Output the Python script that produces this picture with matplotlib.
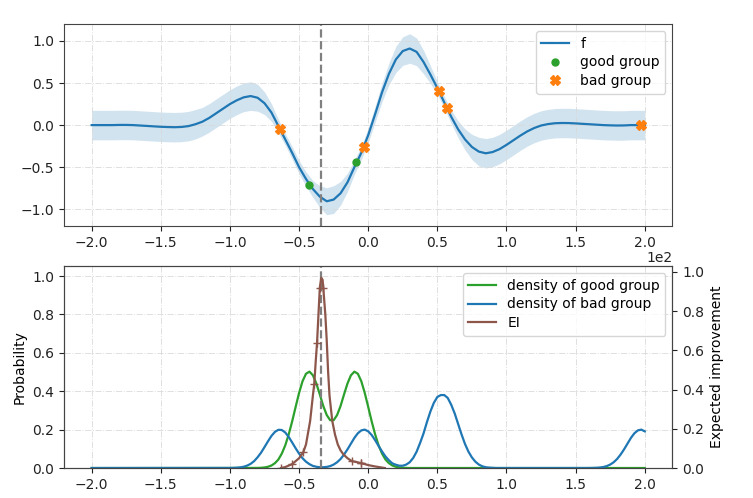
import numpy as np
import matplotlib
matplotlib.use("Agg")
import matplotlib.pyplot as plt

# top panel: posterior mean on a 0.05 grid, from -2 to 2
f_x = np.arange(81) * 0.05 - 2.0
f_mean = [0, 0, 0, 0, 0.002, 0.002, 0, -0.005, -0.01, -0.015,
          -0.02, -0.023, -0.025, -0.022, -0.012, 0.01, 0.04, 0.085, 0.14, 0.195,
          0.25, 0.295, 0.33, 0.345, 0.325, 0.26, 0.15, -0.01, -0.17, -0.33,
          -0.5, -0.64, -0.76, -0.85, -0.905, -0.885, -0.81, -0.68, -0.5, -0.33,
          -0.12, 0.13, 0.39, 0.61, 0.78, 0.88, 0.91, 0.87, 0.75, 0.6,
          0.44, 0.27, 0.1, -0.05, -0.17, -0.26, -0.315, -0.335, -0.32, -0.285,
          -0.235, -0.18, -0.125, -0.075, -0.035, -0.005, 0.012, 0.022, 0.025, 0.024,
          0.02, 0.015, 0.01, 0.005, 0, -0.003, -0.005, -0.004, 0, 0, 0]
f_half = [0.175, 0.175, 0.175, 0.175, 0.175, 0.175, 0.175, 0.175, 0.175, 0.175,
          0.175, 0.175, 0.175, 0.175, 0.175, 0.175, 0.17, 0.17, 0.17, 0.17,
          0.17, 0.17, 0.17, 0.17, 0.16, 0.135, 0.105, 0.08, 0.07, 0.075,
          0.08, 0.085, 0.1, 0.13, 0.16, 0.165, 0.14, 0.11, 0.085, 0.08,
          0.085, 0.095, 0.11, 0.13, 0.155, 0.17, 0.175, 0.165, 0.14, 0.105,
          0.075, 0.07, 0.08, 0.1, 0.125, 0.15, 0.17, 0.175, 0.175, 0.175,
          0.175, 0.175, 0.175, 0.175, 0.175, 0.175, 0.175, 0.175, 0.175, 0.175,
          0.175, 0.175, 0.175, 0.175, 0.175, 0.175, 0.175, 0.175, 0.175, 0.175, 0.175]

good_x = [-0.425, -0.09]
good_y = [-0.71, -0.44]
bad_x = [-0.637, -0.03, 0.51, 0.57, 1.97]
bad_y = [-0.05, -0.256, 0.41, 0.2, 0.0]

split_x = -0.345

# bottom panel: densities on a 0.025 grid
good_dens_x = np.arange(45) * 0.025 - 0.8
good_dens = [0.0005, 0.0013, 0.003, 0.0065, 0.013, 0.025, 0.044, 0.075, 0.118, 0.175,
             0.243, 0.318, 0.391, 0.452, 0.491, 0.502, 0.483, 0.44, 0.383, 0.323,
             0.276, 0.249, 0.249, 0.276, 0.323, 0.383, 0.44, 0.483, 0.502, 0.491,
             0.452, 0.391, 0.318, 0.243, 0.175, 0.118, 0.075, 0.044, 0.025, 0.013,
             0.0065, 0.003, 0.0013, 0.0005, 0]

bad_dens_x = np.arange(121) * 0.025 - 1.0
bad_dens = [0.0003, 0.0007, 0.0016, 0.0034, 0.0068, 0.0127, 0.022, 0.036, 0.056, 0.08,
            0.109, 0.139, 0.167, 0.188, 0.199, 0.198, 0.185, 0.162, 0.133, 0.103,
            0.075, 0.051, 0.033, 0.02, 0.011, 0.0065, 0.004, 0.004, 0.0058, 0.01,
            0.018, 0.03, 0.047, 0.07, 0.097, 0.127, 0.157, 0.181, 0.196, 0.2,
            0.191, 0.172, 0.145, 0.115, 0.086, 0.06, 0.04, 0.024, 0.017, 0.012,
            0.012, 0.018, 0.03, 0.052, 0.085, 0.13, 0.18, 0.24, 0.295, 0.34,
            0.37, 0.38, 0.38, 0.365, 0.33, 0.285, 0.23, 0.175, 0.125, 0.085,
            0.055, 0.033, 0.018, 0.009, 0.004, 0.002, 0.001, 0, 0, 0,
            0, 0, 0, 0, 0, 0, 0, 0, 0, 0,
            0, 0, 0, 0, 0, 0, 0, 0, 0, 0,
            0, 0, 0, 0, 0.0002, 0.0005, 0.0012, 0.0026, 0.0052, 0.01,
            0.018, 0.03, 0.047, 0.07, 0.097, 0.127, 0.157, 0.181, 0.196, 0.2,
            0.191]

# expected improvement, right axis (1e2)
ei_x = [-0.63, -0.6, -0.55, -0.5, -0.47, -0.45, -0.42, -0.4, -0.39, -0.38,
        -0.37, -0.36, -0.35, -0.34, -0.33, -0.325, -0.31, -0.3, -0.29, -0.28,
        -0.26, -0.24, -0.22, -0.2, -0.18, -0.15, -0.12, -0.09, -0.05, 0.0,
        0.05, 0.12]
ei_y = [0, 0.5, 2, 5, 8, 12, 24, 37, 43, 54,
        64, 78, 92, 97, 96, 92, 78, 65, 49, 37,
        24, 17, 12, 9, 7, 5, 3.6, 3.1, 2.5, 1.5,
        0.8, 0]
ei_mark_x = [-0.63, -0.55, -0.47, -0.39, -0.37, -0.35, -0.325, -0.12, -0.05, -0.05]
ei_mark_y = [0, 2, 8, 43, 64, 92, 92, 3.6, 2.5, 2.5]

xticks = [-2.0, -1.5, -1.0, -0.5, 0.0, 0.5, 1.0, 1.5, 2.0]

plt.rcParams["font.size"] = 10
plt.rcParams["axes.edgecolor"] = "#444444"
plt.rcParams["xtick.color"] = "#222222"
plt.rcParams["ytick.color"] = "#222222"

fig = plt.figure(figsize=(7.53, 4.98), dpi=100)

# top panel
ax1 = fig.add_axes([0.085, 0.546, 0.808, 0.4056])
f_mean = np.array(f_mean)
f_half = np.array(f_half)
ax1.fill_between(f_x, f_mean - f_half, f_mean + f_half, color="tab:blue", alpha=0.2, lw=0)
ax1.plot(f_x, f_mean, color="tab:blue", lw=1.6, label="f")
ax1.plot(good_x, good_y, "o", color="tab:green", ms=5, label="good group", zorder=5)
ax1.plot(bad_x, bad_y, "X", color="tab:orange", ms=6.5, label="bad group", zorder=5)
ax1.axvline(split_x, color="gray", ls="--", lw=1.6)
ax1.set_xlim(-2.2, 2.2)
ax1.set_ylim(-1.2, 1.2)
ax1.set_xticks(xticks)
ax1.set_yticks([-1.0, -0.5, 0.0, 0.5, 1.0])
ax1.grid(True, ls="-.", lw=0.7, color="#d8d8d8", alpha=0.8)
ax1.legend(loc="upper right", fontsize=10, labelspacing=0.35)

# bottom panel
ax2 = fig.add_axes([0.085, 0.0602, 0.808, 0.4056])
l1, = ax2.plot(np.r_[-2.0, good_dens_x, 2.0], np.r_[0, good_dens, 0], color="tab:green", lw=1.6,
               label="density of good group")
l2, = ax2.plot(np.r_[-2.0, bad_dens_x], np.r_[0, bad_dens], color="tab:blue", lw=1.6,
               label="density of bad group")
ax2.axvline(split_x, color="gray", ls="--", lw=1.6)
ax2.set_xlim(-2.2, 2.2)
ax2.set_ylim(0, 1.052)
ax2.set_xticks(xticks)
ax2.set_yticks([0.0, 0.2, 0.4, 0.6, 0.8, 1.0])
ax2.set_ylabel("Probability")
ax2.grid(True, ls="-.", lw=0.7, color="#d8d8d8", alpha=0.8)

ax3 = ax2.twinx()
l3, = ax3.plot(ei_x, ei_y, color="tab:brown", lw=1.6, label="EI")
ax3.plot(ei_mark_x, ei_mark_y, "+", color="tab:brown", ms=6)
ax3.set_ylim(0, 103)
ax3.set_yticks([0, 20, 40, 60, 80, 100])
ax3.ticklabel_format(axis="y", style="sci", scilimits=(2, 2))
ax3.set_ylabel("Expected improvement")
ax3.legend(handles=[l1, l2, l3], loc="upper right", fontsize=10, labelspacing=0.35)

fig.savefig("out.png", dpi=100)
